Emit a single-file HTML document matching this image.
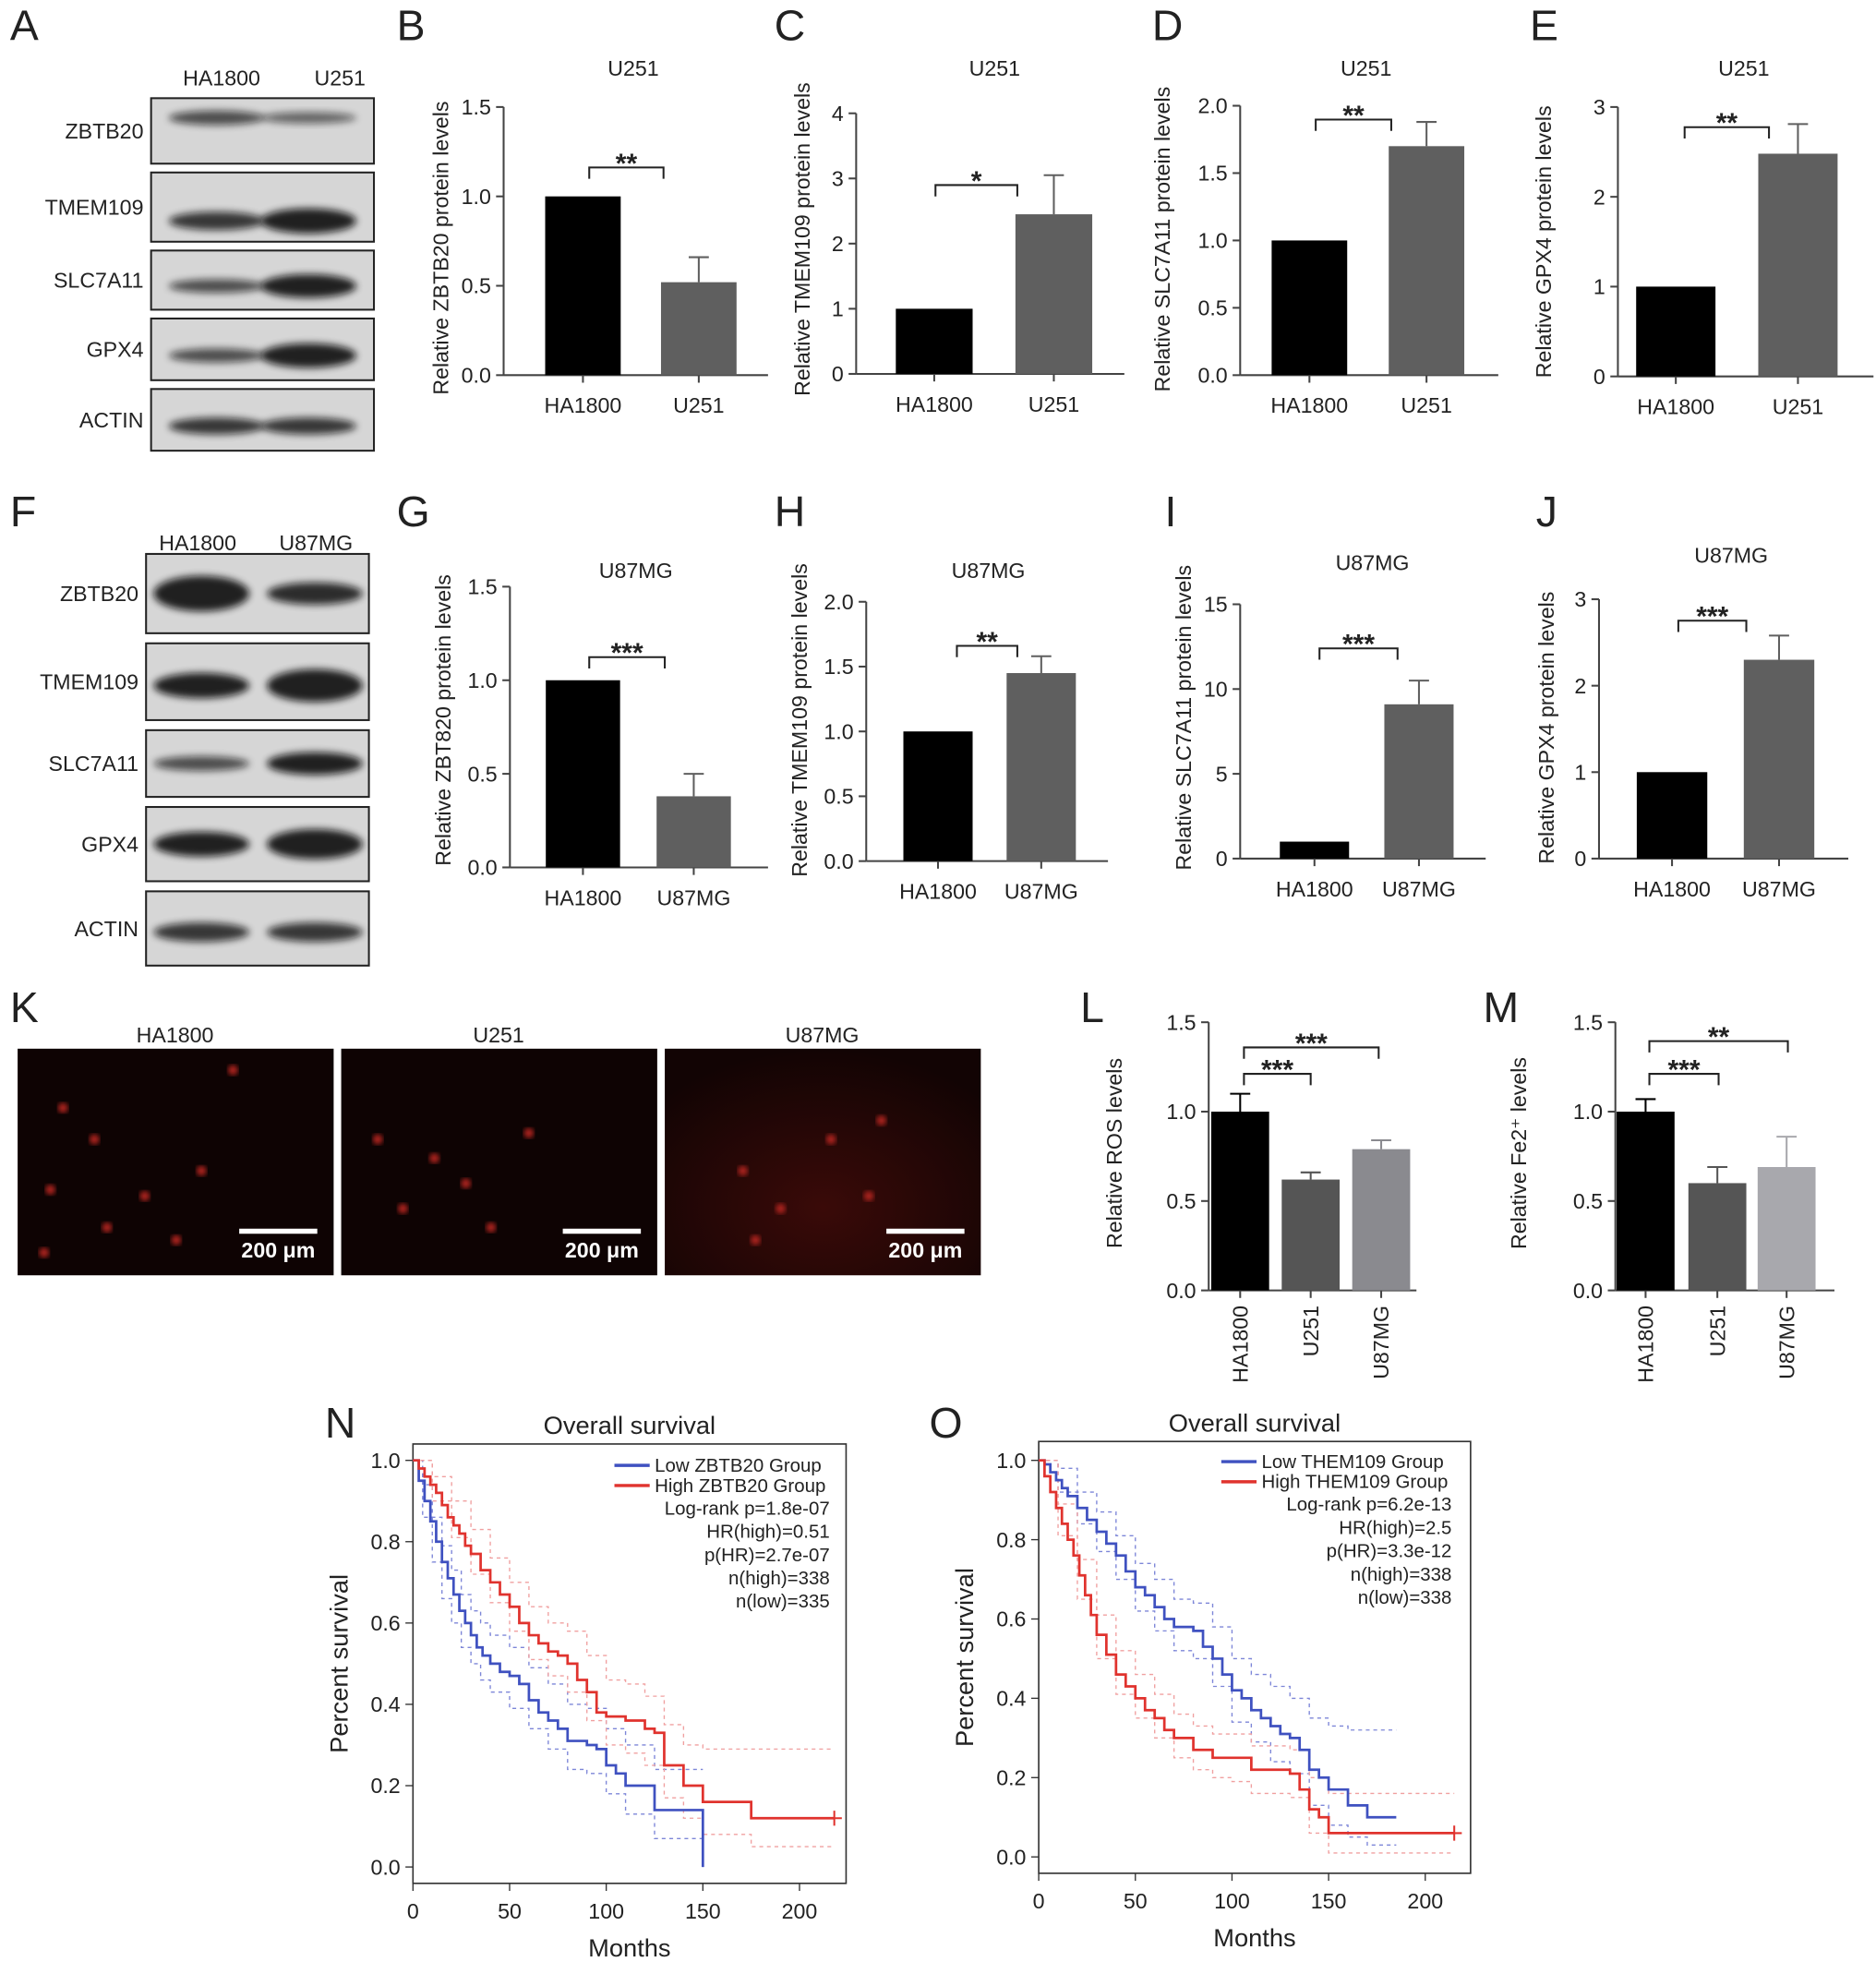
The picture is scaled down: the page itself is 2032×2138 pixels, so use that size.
<!DOCTYPE html>
<html><head><meta charset="utf-8"><style>
html,body{margin:0;padding:0;background:#fff}
svg{display:block}
text{font-family:"Liberation Sans",Arial,sans-serif;fill:#222}
</style></head><body>
<svg id="fig" width="2032" height="2138" viewBox="0 0 1490 1568" preserveAspectRatio="none" xmlns="http://www.w3.org/2000/svg">
<defs>
<filter id="blur" x="-20%" y="-50%" width="140%" height="200%"><feGaussianBlur stdDeviation="3"/></filter>
<filter id="blur2"><feGaussianBlur stdDeviation="2"/></filter>
<radialGradient id="glow" cx="50%" cy="70%" r="70%"><stop offset="0" stop-color="#3a0a08"/><stop offset="1" stop-color="#120404"/></radialGradient>
</defs>
<g id="root"></g>
</svg>
<script>
// ---------- Bar chart data ----------
const barLabelsAB = ["HA1800","U251"];
const barLabelsFG = ["HA1800","U87MG"];
const barLabelsLM = ["HA1800","U251","U87MG"];
const valsB=[1.0,0.52], errB=[0,0.14];
const valsC=[1.0,2.45], errC=[0,0.6];
const valsD=[1.0,1.70], errD=[0,0.18];
const valsE=[1.0,2.48], errE=[0,0.33];
const valsG=[1.0,0.38], errG=[0,0.12];
const valsH=[1.0,1.45], errH=[0,0.13];
const valsI=[1.0,9.1], errI=[0,1.4];
const valsJ=[1.0,2.3], errJ=[0,0.28];
const valsL=[1.0,0.62,0.79], errL=[0.1,0.04,0.05];
const valsM=[1.0,0.60,0.69], errM=[0.07,0.09,0.17];
const ticksB=["0.0","0.5","1.0","1.5"], ticksC=["0","1","2","3","4"], ticksD=["0.0","0.5","1.0","1.5","2.0"];
const ticksE=["0","1","2","3"], ticksI=["0","5","10","15"];

// ---------- KM data ----------
const kmNMonths=[0,3,6,9,12,15,18,21,24,27,30,33,36,40,45,50,55,60,65,70,75,80,85,90,95,100,105,110,115,120,125,130,140,150];
const kmNLow=[1,.95,.9,.85,.8,.75,.71,.67,.63,.6,.57,.54,.52,.5,.48,.47,.45,.41,.38,.36,.34,.31,.31,.3,.29,.25,.23,.2,.2,.2,.14,.14,.14,0];
const kmNHiMonths=[0,3,6,9,12,15,18,21,24,27,30,35,40,45,50,55,60,65,70,75,80,85,90,95,100,110,120,125,130,140,150,160,175,218];
const kmNHigh=[1,.98,.96,.94,.92,.89,.86,.84,.82,.79,.77,.73,.7,.67,.64,.6,.57,.55,.53,.52,.5,.46,.43,.38,.37,.36,.34,.33,.25,.2,.16,.16,.12,.12];
const kmNLowCiMonths=[0,5,10,15,20,25,30,35,40,50,60,70,80,90,100,110,125,150];
const kmNLowUp=[1,0.94,0.86,0.79,0.73,0.67,0.63,0.6,0.57,0.54,0.49,0.45,0.4,0.39,0.34,0.3,0.24,0.24];
const kmNLowLo=[1,0.86,0.75,0.66,0.6,0.54,0.5,0.46,0.43,0.39,0.34,0.29,0.24,0.23,0.18,0.13,0.07,0.0];
const kmNHiCiMonths=[0,10,20,30,40,50,60,70,80,90,100,110,120,130,140,150,175,218];
const kmNHighUp=[1,0.96,0.9,0.83,0.76,0.7,0.64,0.6,0.58,0.52,0.46,0.45,0.42,0.35,0.3,0.29,0.29,0.29];
const kmNHighLo=[1,0.9,0.81,0.72,0.65,0.58,0.51,0.47,0.43,0.36,0.3,0.28,0.25,0.17,0.12,0.08,0.05,0.05];
const kmOMonths=[0,3,6,9,12,15,20,25,30,35,40,45,50,55,60,65,70,75,80,85,90,95,100,105,110,115,120,125,130,135,140,145,150,160,170,185];
const kmOLow=[1,.99,.97,.95,.93,.91,.88,.85,.82,.79,.76,.72,.68,.66,.63,.6,.58,.58,.57,.53,.5,.46,.42,.4,.37,.35,.33,.31,.3,.27,.22,.2,.17,.13,.1,.1];
const kmOHiMonths=[0,3,6,9,12,15,18,21,24,27,30,35,40,45,50,55,60,65,70,80,90,100,110,120,130,135,140,145,150,215];
const kmOHigh=[1,.96,.92,.88,.84,.8,.76,.71,.66,.61,.56,.51,.46,.43,.4,.37,.35,.32,.3,.27,.25,.25,.22,.22,.21,.17,.12,.1,.06,.06];
const kmOLowCiMonths=[0,10,20,30,40,50,60,70,80,90,100,110,120,130,140,150,160,170,185];
const kmOLowUp=[1,0.98,0.92,0.87,0.81,0.74,0.7,0.65,0.64,0.58,0.5,0.46,0.43,0.4,0.35,0.33,0.32,0.32,0.32];
const kmOLowLo=[1,0.92,0.84,0.77,0.7,0.62,0.57,0.52,0.5,0.43,0.34,0.29,0.24,0.21,0.13,0.08,0.05,0.03,0.03];
const kmOHiCiMonths=[0,10,20,30,40,50,60,70,80,90,100,110,130,140,150,215];
const kmOHighUp=[1,0.89,0.75,0.61,0.52,0.46,0.41,0.36,0.33,0.31,0.31,0.28,0.27,0.2,0.16,0.16];
const kmOHighLo=[1,0.81,0.65,0.5,0.41,0.35,0.3,0.25,0.22,0.2,0.19,0.16,0.15,0.06,0.01,0.01];
const kmTicksX=["0","50","100","150","200"], kmTicksY=["0.0","0.2","0.4","0.6","0.8","1.0"];

const NS="http://www.w3.org/2000/svg";
const root=document.getElementById('root');
function el(tag,attrs,parent,txt){const e=document.createElementNS(NS,tag);for(const k in attrs)e.setAttribute(k,attrs[k]);if(txt!==undefined)e.textContent=txt;(parent||root).appendChild(e);return e;}
function grp(name,parent){const g=el('g',{},parent);return g;}
function txt(g,x,y,s,size,anchor,extra){const t=el('text',Object.assign({x:x,y:y,'font-size':size,'text-anchor':anchor||'middle'},extra||{}),g,s);return t;}

[["A",8,32],["B",315,32],["C",615,32],["D",915,32],["E",1215,32],["F",8,418],["G",315,418],["H",615,418],["I",925,418],["J",1220,418],["K",8,812],["L",858,812],["M",1178,812],["N",258,1142],["O",738,1142]].forEach(p=>{txt(root,p[1],p[2],p[0],34,'start');});

function barChart(o){
  const g=grp(o.name);
  const ymap=v=>o.y0-(v/o.ymax)*(o.y0-o.y1);
  el('line',{x1:o.ax,y1:o.y1,x2:o.ax,y2:o.y0,stroke:'#444','stroke-width':1.5},g);
  el('line',{x1:o.ax,y1:o.y0,x2:o.xend,y2:o.y0,stroke:'#444','stroke-width':1.5},g);
  o.ticks.forEach((t,i)=>{const v=o.ymax*i/(o.ticks.length-1);const y=ymap(v);
    el('line',{x1:o.ax-6,y1:y,x2:o.ax,y2:y,stroke:'#444','stroke-width':1.5},g);
    txt(g,o.ax-10,y+6,t,17,'end');});
  o.vals.forEach((v,i)=>{const cx=o.centers[i];const b=el('rect',{x:cx-o.bw/2,y:ymap(v),width:o.bw,height:o.y0-ymap(v),fill:o.colors[i]},g);
    
    if(o.errs[i]>0){const ye=ymap(v+o.errs[i]);el('line',{x1:cx,y1:ymap(v),x2:cx,y2:ye,stroke:o.colors[i],'stroke-width':1.5},g);el('line',{x1:cx-8,y1:ye,x2:cx+8,y2:ye,stroke:o.colors[i],'stroke-width':1.5},g);}
    el('line',{x1:cx,y1:o.y0,x2:cx,y2:o.y0+6,stroke:'#444','stroke-width':1.5},g);
    if(o.rot){txt(g,cx+6,o.y0+12,o.labels[i],17,'end',{transform:`rotate(-90 ${cx+6} ${o.y0+12})`});}
    else txt(g,cx,o.y0+30,o.labels[i],17);});
  if(o.title)txt(g,o.tx,o.ty,o.title,17);
  txt(g,0,0,o.ylabel,17,'middle',{transform:`translate(${o.lx},${o.ly}) rotate(-90)`});
  o.br.forEach(b=>{el('path',{d:`M${b[0]},${b[2]+9}V${b[2]}H${b[1]}V${b[2]+9}`,fill:'none',stroke:'#222','stroke-width':1.5},g);txt(g,(b[0]+b[1])/2,b[2]+4,b[3],22,'middle',{'font-weight':'bold'});});
}
const K='#000',G='#5f5f5f';
barChart({name:'chart-b',ax:400,y0:298,y1:85,xend:610,ymax:1.5,ticks:ticksB,vals:valsB,errs:errB,centers:[463,555],bw:60,colors:[K,G],labels:barLabelsAB,title:'U251',tx:503,ty:60,ylabel:'Relative ZBTB20 protein levels',lx:356,ly:197,br:[[468,527,133,'**']]});
barChart({name:'chart-c',ax:680,y0:297,y1:90,xend:893,ymax:4,ticks:ticksC,vals:valsC,errs:errC,centers:[742,837],bw:61,colors:[K,G],labels:barLabelsAB,title:'U251',tx:790,ty:60,ylabel:'Relative TMEM109 protein levels',lx:643,ly:190,br:[[743,808,147,'*']]});
barChart({name:'chart-d',ax:985,y0:298,y1:84,xend:1190,ymax:2,ticks:ticksD,vals:valsD,errs:errD,centers:[1040,1133],bw:60,colors:[K,G],labels:barLabelsAB,title:'U251',tx:1085,ty:60,ylabel:'Relative SLC7A11 protein levels',lx:929,ly:190,br:[[1045,1105,95,'**']]});
barChart({name:'chart-e',ax:1285,y0:299,y1:85,xend:1488,ymax:3,ticks:ticksE,vals:valsE,errs:errE,centers:[1331,1428],bw:63,colors:[K,G],labels:barLabelsAB,title:'U251',tx:1385,ty:60,ylabel:'Relative GPX4 protein levels',lx:1232,ly:192,br:[[1338,1405,101,'**']]});
barChart({name:'chart-g',ax:405,y0:689,y1:466,xend:610,ymax:1.5,ticks:ticksB,vals:valsG,errs:errG,centers:[463,551],bw:59,colors:[K,G],labels:barLabelsFG,title:'U87MG',tx:505,ty:459,ylabel:'Relative ZBT820 protein levels',lx:358,ly:572,br:[[468,528,522,'***']]});
barChart({name:'chart-h',ax:688,y0:684,y1:478,xend:880,ymax:2,ticks:ticksD,vals:valsH,errs:errH,centers:[745,827],bw:55,colors:[K,G],labels:barLabelsFG,title:'U87MG',tx:785,ty:459,ylabel:'Relative TMEM109 protein levels',lx:641,ly:572,br:[[760,808,513,'**']]});
barChart({name:'chart-i',ax:985,y0:682,y1:480,xend:1180,ymax:15,ticks:ticksI,vals:valsI,errs:errI,centers:[1044,1127],bw:55,colors:[K,G],labels:barLabelsFG,title:'U87MG',tx:1090,ty:453,ylabel:'Relative SLC7A11 protein levels',lx:946,ly:570,br:[[1048,1110,515,'***']]});
barChart({name:'chart-j',ax:1270,y0:682,y1:476,xend:1468,ymax:3,ticks:ticksE,vals:valsJ,errs:errJ,centers:[1328,1413],bw:56,colors:[K,G],labels:barLabelsFG,title:'U87MG',tx:1375,ty:447,ylabel:'Relative GPX4 protein levels',lx:1234,ly:578,br:[[1333,1387,493,'***']]});
barChart({name:'chart-l',ax:960,y0:1025,y1:812,xend:1125,ymax:1.5,ticks:ticksB,vals:valsL,errs:errL,centers:[985,1041,1097],bw:46,colors:[K,'#555','#8a8a8f'],labels:barLabelsLM,rot:true,ylabel:'Relative ROS levels',lx:891,ly:916,br:[[988,1041,853,'***'],[988,1095,832,'***']]});
barChart({name:'chart-m',ax:1283,y0:1025,y1:812,xend:1457,ymax:1.5,ticks:ticksB,vals:valsM,errs:errM,centers:[1307,1364,1419],bw:46,colors:[K,'#555','#a8a8ad'],labels:barLabelsLM,rot:true,ylabel:'Relative Fe2⁺ levels',lx:1212,ly:916,br:[[1310,1365,853,'***'],[1310,1420,827,'**']]});

function blot(name,bx,bw,rows,lanes,headers,hy){
  const g=grp(name);
  headers.forEach((h,i)=>txt(g,h[1],hy,h[0],17));
  rows.forEach(r=>{
    el('rect',{x:bx,y:r.y,width:bw,height:r.h,fill:'#d6d6d6',stroke:'#222','stroke-width':1.5},g);
    txt(g,bx-6,r.y+r.h/2+6,r.name,17,'end');
    lanes.forEach((cx,i)=>{const s=r.s[i];
      el('ellipse',{cx:cx,cy:r.y+r.h*r.pos,rx:38,ry:r.h*0.12*s+2,fill:'#111',opacity:0.35+0.55*Math.min(s,1),filter:'url(#blur)'},g);});
  });
}
blot('western-blot-a',120,177,[
 {name:'ZBTB20',y:78,h:52,pos:0.3,s:[0.6,0.4]},{name:'TMEM109',y:137,h:55,pos:0.7,s:[0.8,1.2]},
 {name:'SLC7A11',y:199,h:47,pos:0.6,s:[0.6,1.3]},{name:'GPX4',y:253,h:49,pos:0.6,s:[0.6,1.3]},
 {name:'ACTIN',y:309,h:49,pos:0.6,s:[0.8,0.8]}],[172,245],[['HA1800',176],['U251',270]],68);
blot('western-blot-f',116,177,[
 {name:'ZBTB20',y:440,h:63,pos:0.5,s:[1.6,0.9]},{name:'TMEM109',y:511,h:61,pos:0.55,s:[1.1,1.5]},
 {name:'SLC7A11',y:580,h:53,pos:0.5,s:[0.6,1.1]},{name:'GPX4',y:641,h:59,pos:0.5,s:[1.1,1.4]},
 {name:'ACTIN',y:708,h:59,pos:0.55,s:[0.8,0.8]}],[160,250],[['HA1800',157],['U87MG',251]],437);

const imgs=[['HA1800',14,[[50,880],[75,905],[40,945],[115,950],[140,985],[85,975],[35,995],[160,930],[185,850]]],
 ['U251',271,[[300,905],[345,920],[320,960],[370,940],[420,900],[390,975]]],
 ['U87MG',528,[[590,930],[620,960],[660,905],[690,950],[600,985],[700,890]]]];
imgs.forEach(im=>{const g=grp('fluorescence-'+im[0].toLowerCase());
  txt(g,im[1]+125,828,im[0],17);
  el('rect',{x:im[1],y:833,width:251,height:180,fill:im[0]==='U87MG'?'url(#glow)':'#0e0303'},g);
  im[2].forEach(p=>el('circle',{cx:p[0],cy:p[1],r:4,fill:'#a8241e',filter:'url(#blur2)'},g));
  el('line',{x1:im[1]+176,y1:978,x2:im[1]+238,y2:978,stroke:'#fff','stroke-width':4},g);
  txt(g,im[1]+207,999,'200 μm',17,'middle',{fill:'#fff','font-weight':'bold',style:'fill:#fff'});
});

function km(o){
  const g=grp(o.name);
  const xm=m=>o.x0+m*o.sx, ym=v=>o.yb-v*(o.yb-o.yt);
  el('rect',{x:o.x0,y:o.boxTop,width:o.boxR-o.x0,height:o.boxB-o.boxTop,fill:'none',stroke:'#333','stroke-width':1.2},g);
  kmTicksX.forEach((t,i)=>{const x=xm(i*50);el('line',{x1:x,y1:o.boxB,x2:x,y2:o.boxB+6,stroke:'#333'},g);txt(g,x,o.boxB+28,t,17);});
  kmTicksY.forEach((t,i)=>{const y=ym(i*0.2);el('line',{x1:o.x0-6,y1:y,x2:o.x0,y2:y,stroke:'#333'},g);txt(g,o.x0-10,y+6,t,17,'end');});
  txt(g,(o.x0+o.boxR)/2,o.boxTop-8,'Overall survival',20);
  txt(g,(o.x0+o.boxR)/2,o.boxB+58,'Months',20);
  txt(g,0,0,'Percent survival',20,'middle',{transform:`translate(${o.x0-52},${(o.boxTop+o.boxB)/2}) rotate(-90)`});
  function step(ms,vs,color,dash,w,name){let d=`M${xm(ms[0])},${ym(vs[0])}`;for(let i=1;i<ms.length;i++){d+=`H${xm(ms[i])}V${ym(vs[i])}`;}
    const p=el('path',{d:d,fill:'none',stroke:color,'stroke-width':w,'stroke-dasharray':dash||'none'},g);}
  step(o.lcm,o.lowUp,'#7d86d8','3,3',1,'low-ci-upper');step(o.lcm,o.lowLo,'#7d86d8','3,3',1,'low-ci-lower');
  step(o.hcm,o.highUp,'#f0a0a0','3,3',1,'high-ci-upper');step(o.hcm,o.highLo,'#f0a0a0','3,3',1,'high-ci-lower');
  step(o.lm,o.low,'#3f51c0',null,2,'low-group-curve');step(o.hm,o.high,'#e0332e',null,2,'high-group-curve');
  const le=o.hm[o.hm.length-1];el('path',{d:`M${xm(le)-6},${ym(o.high[o.high.length-1])}h12m-6,-6v12`,stroke:'#e0332e','stroke-width':1.5},g);
  const lg=grp('legend',g);
  el('line',{x1:o.legX,y1:o.legY,x2:o.legX+28,y2:o.legY,stroke:'#3f51c0','stroke-width':2.5},lg);
  txt(lg,o.legX+32,o.legY+5,o.lowName,15,'start');
  el('line',{x1:o.legX,y1:o.legY+16,x2:o.legX+28,y2:o.legY+16,stroke:'#e0332e','stroke-width':2.5},lg);
  txt(lg,o.legX+32,o.legY+21,o.highName,15,'start');
  o.stats.forEach((s,i)=>txt(lg,o.statX,o.legY+39+i*18.5,s,15,'end'));
}
km({name:'km-plot-n',x0:328,sx:1.535,yb:1483,yt:1160,boxTop:1147,boxB:1496,boxR:672,lm:kmNMonths,low:kmNLow,lcm:kmNLowCiMonths,lowUp:kmNLowUp,lowLo:kmNLowLo,hm:kmNHiMonths,high:kmNHigh,hcm:kmNHiCiMonths,highUp:kmNHighUp,highLo:kmNHighLo,legX:488,legY:1164,lowName:'Low ZBTB20 Group',highName:'High ZBTB20 Group',statX:659,stats:['Log-rank p=1.8e-07','HR(high)=0.51','p(HR)=2.7e-07','n(high)=338','n(low)=335']});
km({name:'km-plot-o',x0:825,sx:1.535,yb:1475,yt:1160,boxTop:1145,boxB:1488,boxR:1168,lm:kmOMonths,low:kmOLow,lcm:kmOLowCiMonths,lowUp:kmOLowUp,lowLo:kmOLowLo,hm:kmOHiMonths,high:kmOHigh,hcm:kmOHiCiMonths,highUp:kmOHighUp,highLo:kmOHighLo,legX:970,legY:1161,lowName:'Low THEM109 Group',highName:'High THEM109 Group',statX:1153,stats:['Log-rank p=6.2e-13','HR(high)=2.5','p(HR)=3.3e-12','n(high)=338','n(low)=338']});
</script>
</body></html>
